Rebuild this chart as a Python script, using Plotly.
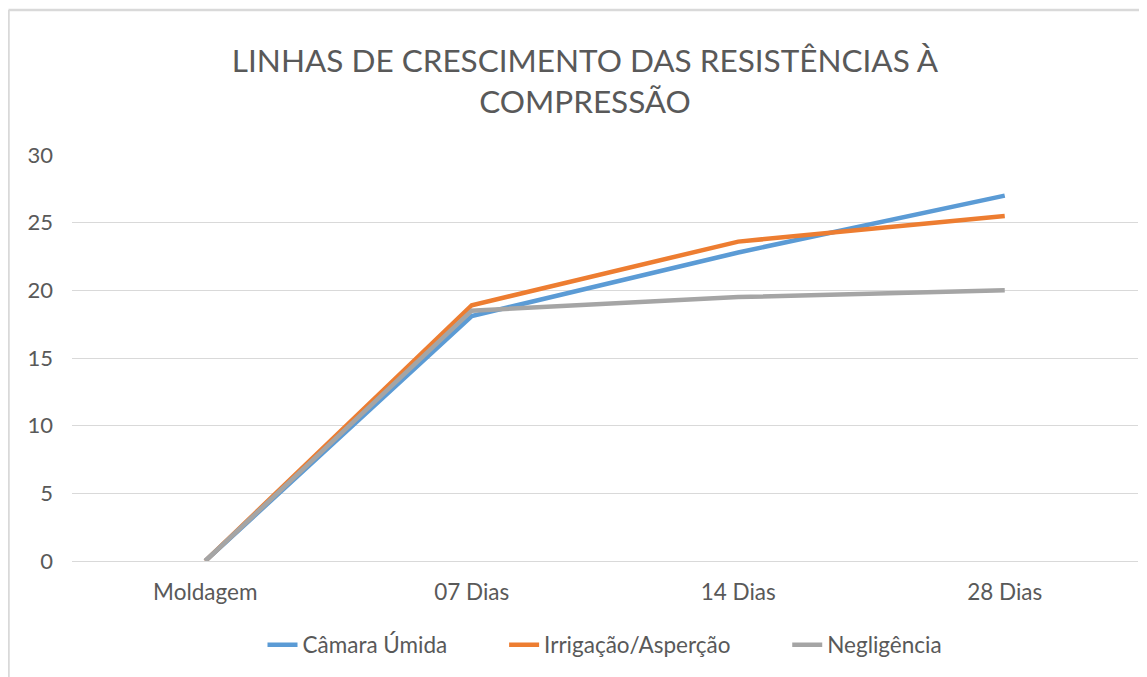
import plotly.graph_objects as go

categories = ["Moldagem", "07 Dias", "14 Dias", "28 Dias"]
camara_umida = [0, 18.1, 22.8, 27.0]
irrigacao = [0, 18.9, 23.6, 25.5]
negligencia = [0, 18.5, 19.5, 20.0]
y_ticks = [0, 5, 10, 15, 20, 25, 30]
series_names = ["Câmara Úmida", "Irrigação/Asperção", "Negligência"]

FONT = "Lato"
TXT = "#595959"

W, H = 1147, 677
L, R, T, B = 64, 17, 147, 124
PW, PH = W - L - R, H - T - B
PAD = "\u00a0" * 9

fig = go.Figure()
for i, (name, vals, col) in enumerate(zip(series_names,
                                          [camara_umida, irrigacao, negligencia],
                                          ["#5B9BD5", "#ED7D31", "#A5A5A5"])):
    label = name + (PAD if i < 2 else "")
    fig.add_trace(go.Scatter(x=categories, y=vals, name=label, mode="lines",
                             line=dict(color=col, width=4.5)))

fig.update_layout(
    width=W, height=H,
    margin=dict(l=L, r=R, t=T, b=B),
    paper_bgcolor="white", plot_bgcolor="white",
    font=dict(family=FONT, color=TXT, size=22),
    title=dict(text="LINHAS DE CRESCIMENTO DAS RESISTÊNCIAS À<br>COMPRESSÃO",
               x=577 / W, xanchor="center", y=1 - 64 / H, yanchor="middle",
               font=dict(family=FONT, size=31.5, color=TXT)),
    xaxis=dict(range=[-0.5, 3.5], showgrid=False, showline=False, ticks="",
               ticklabelstandoff=15, tickfont=dict(size=22.5, color=TXT)),
    yaxis=dict(range=[0, 30], tickvals=y_ticks, showgrid=True, gridcolor="#D9D9D9",
               gridwidth=1, zeroline=True, zerolinecolor="#D9D9D9", zerolinewidth=1,
               ticks="", ticklabelstandoff=18, tickfont=dict(size=22, color=TXT)),
    legend=dict(orientation="h", x=0.5, xanchor="center", y=-84 / PH, yanchor="middle",
                font=dict(size=22.5, color=TXT), tracegroupgap=0),
    showlegend=True,
)
fig.add_shape(type="line", xref="paper", yref="paper",
              x0=(0.5 - L) / PW, x1=1.1, y0=(H - B - 2) / PH, y1=(H - B - 2) / PH,
              line=dict(color="#D9D9D9", width=2.5))
fig.add_shape(type="line", xref="paper", yref="paper",
              x0=(0.5 - L) / PW, x1=(0.5 - L) / PW, y0=(H - B - 2) / PH, y1=-0.4,
              line=dict(color="#D9D9D9", width=2.5))
fig.write_html("out.html")
